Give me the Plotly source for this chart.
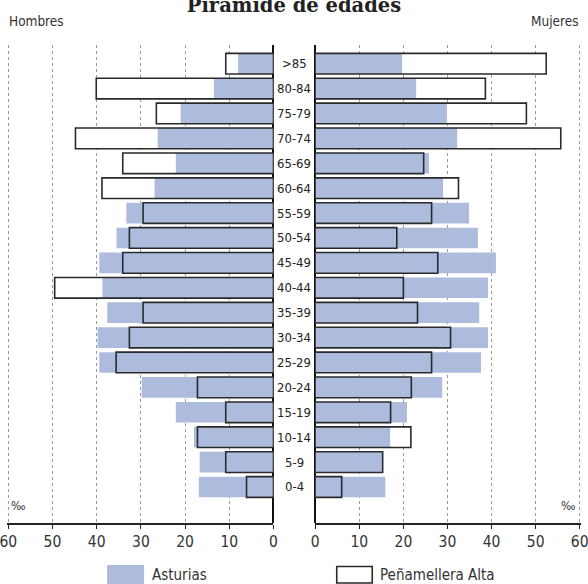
import plotly.graph_objects as go

ages = ["0-4", "5-9", "10-14", "15-19", "20-24", "25-29", "30-34", "35-39", "40-44",
        "45-49", "50-54", "55-59", "60-64", "65-69", "70-74", "75-79", "80-84", ">85"]
hombres_asturias = [16.9, 16.7, 18.0, 22.1, 29.8, 39.4, 39.8, 37.6, 38.7, 39.4, 35.5, 33.3, 26.9, 22.1, 26.2, 21.0, 13.5, 8.0]
hombres_pena = [6.1, 10.8, 17.2, 10.8, 17.2, 35.6, 32.6, 29.5, 49.5, 34.1, 32.6, 29.5, 38.8, 34.1, 44.8, 26.5, 40.1, 10.8]
mujeres_asturias = [15.9, 15.3, 17.0, 20.8, 28.8, 37.6, 39.2, 37.2, 39.2, 41.0, 36.9, 34.9, 29.0, 25.8, 32.2, 29.9, 22.9, 19.7]
mujeres_pena = [6.0, 15.3, 21.7, 17.1, 21.8, 26.4, 30.7, 23.2, 20.0, 27.8, 18.5, 26.4, 32.5, 24.6, 55.7, 47.9, 38.6, 52.4]
tick_vals = [0, 10, 20, 30, 40, 50, 60]

BLUE = "#adbbdd"
EDGE = "#2a2a2a"
FONT = "Liberation Sans Narrow, DejaVu Sans Condensed, sans-serif"
W = 0.83
FW, FH = 588, 584
ML, MR, MT, MB = 7.0, 7.4, 45, 61
PW, PH = FW - ML - MR, FH - MT - MB
YR = [-1.446, 17.75]
XMAX = 60.29


def px_x(p):
    return (p - ML) / PW


def py(p):
    return (FH - MB - p) / PH


fig = go.Figure()
for xa, ya, ast, pen in [("x", "y", hombres_asturias, hombres_pena),
                         ("x2", "y2", mujeres_asturias, mujeres_pena)]:
    fig.add_trace(go.Bar(y=ages, x=pen, orientation="h", width=W, xaxis=xa, yaxis=ya,
                         marker=dict(color="white", line=dict(width=0)), showlegend=False,
                         hoverinfo="skip"))
    fig.add_trace(go.Bar(y=ages, x=ast, orientation="h", width=W, xaxis=xa, yaxis=ya,
                         marker=dict(color=BLUE, line=dict(width=0)), showlegend=False,
                         name="Asturias"))
    fig.add_trace(go.Bar(y=ages, x=pen, orientation="h", width=W, xaxis=xa, yaxis=ya,
                         marker=dict(color="rgba(0,0,0,0)", line=dict(width=1.6, color=EDGE)),
                         showlegend=False, name="Peñamellera Alta"))

xcommon = dict(tickmode="array", tickvals=tick_vals, ticks="outside", ticklen=4,
               tickcolor="#222", showline=True, linecolor="#222", linewidth=1.6,
               showgrid=True, gridcolor="#9a9a9a", griddash="3px,3px", gridwidth=1,
               zeroline=True, zerolinecolor="#111", zerolinewidth=1.6, automargin=False,
               tickfont=dict(family=FONT, size=15.5, color="#333"), ticklabelstandoff=0,
               ticklabeloverflow="allow", fixedrange=True)
fig.update_layout(
    barmode="overlay",
    width=FW, height=FH,
    margin=dict(l=ML, r=MR, t=MT, b=MB, autoexpand=False),
    paper_bgcolor="white", plot_bgcolor="white",
    xaxis=dict(domain=[0, px_x(273.3)], range=[XMAX, 0], anchor="y", **xcommon),
    xaxis2=dict(domain=[px_x(315), 1], range=[0, XMAX], anchor="y2", **xcommon),
    yaxis=dict(range=YR, showticklabels=False, showgrid=False, ticks="",
               anchor="x", type="category", fixedrange=True, automargin=False),
    yaxis2=dict(range=YR, showticklabels=False, showgrid=False, ticks="",
                anchor="x2", type="category", fixedrange=True, automargin=False),
    title=dict(text="<b>Pirámide de edades</b>", x=0.5, xanchor="center", xref="container",
               y=1 - 5 / FH, yanchor="middle", yref="container",
               font=dict(family="DejaVu Serif", size=19.5, color="#222")),
    showlegend=False,
)

ann = []
for a in ages:
    ann.append(dict(x=px_x(294), xref="paper", y=a, yref="y", text=a, showarrow=False,
                    xanchor="center", yanchor="middle",
                    font=dict(family=FONT, size=13, color="#222")))
ann += [
    dict(x=px_x(7), xref="paper", y=py(21), yref="paper", text="Hombres",
         showarrow=False, xanchor="left", yanchor="middle",
         font=dict(family=FONT, size=13.5, color="#333")),
    dict(x=px_x(581), xref="paper", y=py(21), yref="paper", text="Mujeres",
         showarrow=False, xanchor="right", yanchor="middle",
         font=dict(family=FONT, size=13.5, color="#333")),
    dict(x=px_x(18), xref="paper", y=py(506), yref="paper", text="‰", showarrow=False,
         xanchor="center", yanchor="middle", font=dict(family=FONT, size=12, color="#333")),
    dict(x=px_x(568), xref="paper", y=py(506), yref="paper", text="‰", showarrow=False,
         xanchor="center", yanchor="middle", font=dict(family=FONT, size=12, color="#333")),
    dict(x=px_x(150), xref="paper", y=py(575), yref="paper", text="Asturias", showarrow=False,
         xanchor="left", yanchor="middle", font=dict(family=FONT, size=15, color="#333")),
    dict(x=px_x(378), xref="paper", y=py(575), yref="paper", text="Peñamellera Alta", showarrow=False,
         xanchor="left", yanchor="middle", font=dict(family=FONT, size=15, color="#333")),
]
shapes = [
    dict(type="rect", xref="paper", yref="paper", x0=px_x(107), x1=px_x(144), y0=py(584), y1=py(565),
         fillcolor=BLUE, line=dict(width=0)),
    dict(type="rect", xref="paper", yref="paper", x0=px_x(336.5), x1=px_x(372), y0=py(583), y1=py(566.5),
         fillcolor="white", line=dict(width=1.6, color=EDGE)),
]
fig.update_layout(annotations=ann, shapes=shapes)
fig.write_html("out.html", config={"displayModeBar": False},
               post_script="document.body.style.margin='0';")
